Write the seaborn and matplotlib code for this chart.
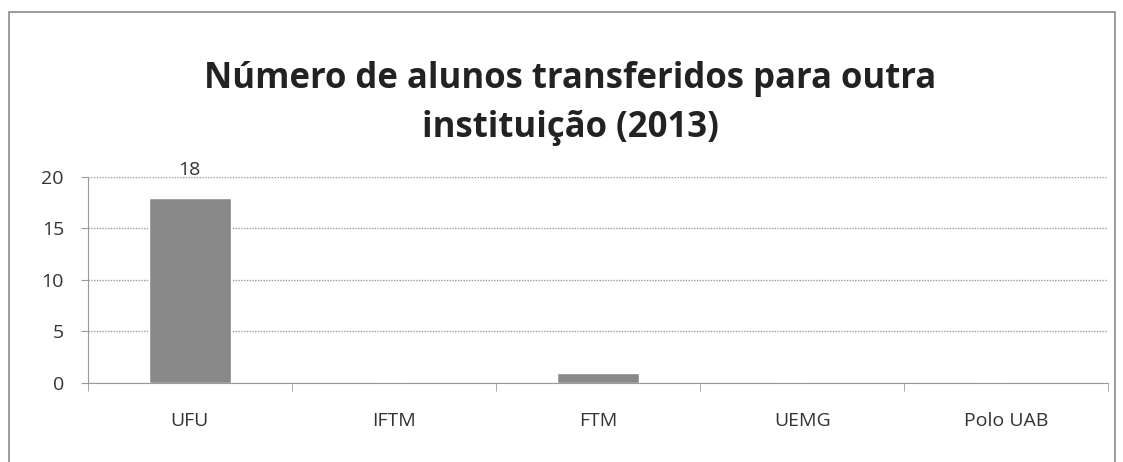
import matplotlib.pyplot as plt
import pandas as pd
import seaborn as sns
from matplotlib.patches import Rectangle

categorias = ['UFU', 'IFTM', 'FTM', 'UEMG', 'Polo UAB']
alunos = [18, 0, 1, 0, 0]
titulo = 'Número de alunos transferidos para outra\ninstituição (2013)'

df = pd.DataFrame({'Instituicao': categorias, 'Alunos': alunos})

sns.set_style('white')
plt.rcParams['font.family'] = ['Open Sans', 'DejaVu Sans']

fig = plt.figure(figsize=(11.23, 4.62), dpi=100)
ax = fig.add_axes([0.078, 0.171, 0.909, 0.446])

sns.barplot(x='Instituicao', y='Alunos', data=df, color='#888888', width=0.4,
            saturation=1, ax=ax, zorder=3)

ax.set_ylim(0, 20)
ax.set_xlim(-0.5, 4.5)
ax.set_yticks([0, 5, 10, 15, 20])
ax.yaxis.grid(True, color='#9a9a9a', linestyle=(0, (1, 1)), linewidth=1)
ax.set_xlabel('')
ax.set_ylabel('')

for s in ['top', 'right']:
    ax.spines[s].set_visible(False)
ax.spines['left'].set_color('#9a9a9a')
ax.spines['bottom'].set_color('#9a9a9a')
ax.spines['left'].set_linestyle((0, (1, 1)))
ax.spines['bottom'].set_linestyle((0, (1, 1)))

ax.tick_params(axis='y', labelsize=14, colors='#333333', length=5, direction='out',
               left=True, pad=12)
ax.tick_params(axis='y', color='#9a9a9a')
ax.set_xticks([i - 0.5 for i in range(6)], minor=True)
ax.tick_params(axis='x', which='minor', length=6, color='#9a9a9a', bottom=True)
ax.tick_params(axis='x', which='major', length=0, labelsize=14, labelcolor='#333333', pad=21)

ax.bar_label(ax.containers[0], labels=['18', '', '', '', ''], fontsize=14,
             color='#333333', padding=13)

fig.text(0.508, 0.685, titulo, ha='center', va='bottom', fontsize=25,
         fontweight='bold', color='#222222', linespacing=1.45)

fig.patches.append(Rectangle((0.008, -0.02), 0.985, 0.995, transform=fig.transFigure,
                             fill=False, edgecolor='#8a8a8a', linewidth=1.2))

fig.savefig('out.png', dpi=100)
